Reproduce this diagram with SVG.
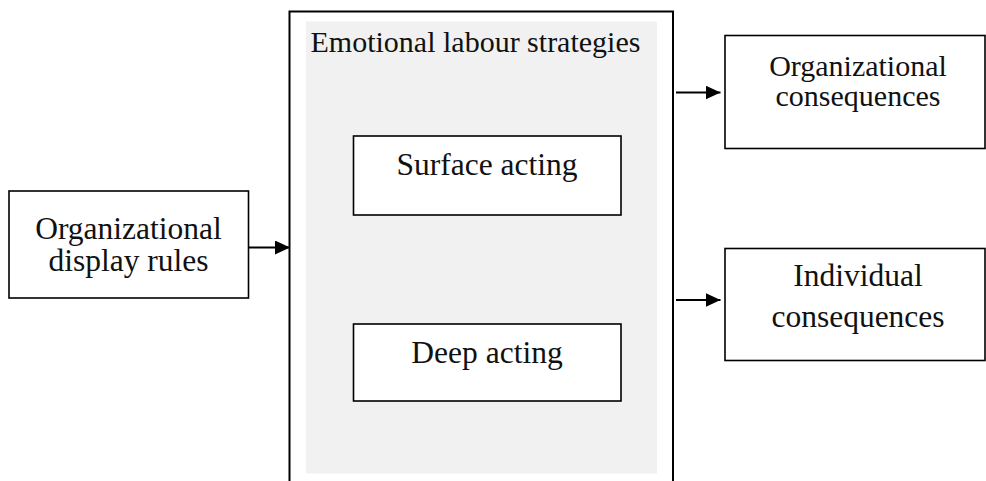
<svg xmlns="http://www.w3.org/2000/svg" width="986" height="481" viewBox="0 0 986 481">
  <defs>
    <style>
      .box { fill: #ffffff; stroke: #000000; stroke-width: 1.6; }
      .frame { fill: #ffffff; stroke: #000000; stroke-width: 2; }
      .panel { fill: #f1f1f1; stroke: none; }
      .lbl { font-family: "Liberation Serif", "Times New Roman", serif; font-size: 31.5px; fill: #111111; text-anchor: middle; }
      .lbl-tight { font-size: 30px; }
      .ttl { font-family: "Liberation Serif", "Times New Roman", serif; font-size: 30px; fill: #111111; }
      .conn { stroke: #000000; stroke-width: 1.8; fill: none; marker-end: url(#arrow); }
    </style>
    <marker id="arrow" markerWidth="16" markerHeight="14" refX="15" refY="7" orient="auto" markerUnits="userSpaceOnUse">
      <path d="M0,0 L15,7 L0,14 Z" fill="#000000"/>
    </marker>
  </defs>

  <rect width="986" height="481" fill="#ffffff"/>

  <!-- strategies container: outer frame runs past the bottom edge -->
  <g id="strategies">
    <rect class="frame" x="289.5" y="11.5" width="383.5" height="490"/>
    <rect class="panel" x="306" y="21.5" width="351" height="452"/>
    <text class="ttl" x="310.5" y="51.5">Emotional labour strategies</text>
  </g>

  <g id="display-rules">
    <rect class="box" x="9" y="191" width="239.5" height="107"/>
    <text class="lbl" x="128.5" y="239">Organizational</text>
    <text class="lbl" x="128.5" y="271">display rules</text>
  </g>

  <g id="surface-acting">
    <rect class="box" x="353.5" y="136" width="267.5" height="79"/>
    <text class="lbl" x="487" y="175">Surface acting</text>
  </g>

  <g id="deep-acting">
    <rect class="box" x="353.5" y="324" width="267.5" height="77"/>
    <text class="lbl" x="487" y="362.5">Deep acting</text>
  </g>

  <g id="org-consequences">
    <rect class="box" x="725" y="35.5" width="260" height="113"/>
    <text class="lbl lbl-tight" x="858" y="76">Organizational</text>
    <text class="lbl lbl-tight" x="858" y="106">consequences</text>
  </g>

  <g id="ind-consequences">
    <rect class="box" x="725" y="248.5" width="260" height="112"/>
    <text class="lbl" x="858" y="285.5">Individual</text>
    <text class="lbl" x="858" y="326.5">consequences</text>
  </g>

  <g id="connectors">
    <line class="conn" x1="248.5" y1="247.5" x2="290" y2="247.5"/>
    <line class="conn" x1="676" y1="92.5" x2="720.5" y2="92.5"/>
    <line class="conn" x1="676" y1="300" x2="720.5" y2="300"/>
  </g>
</svg>
